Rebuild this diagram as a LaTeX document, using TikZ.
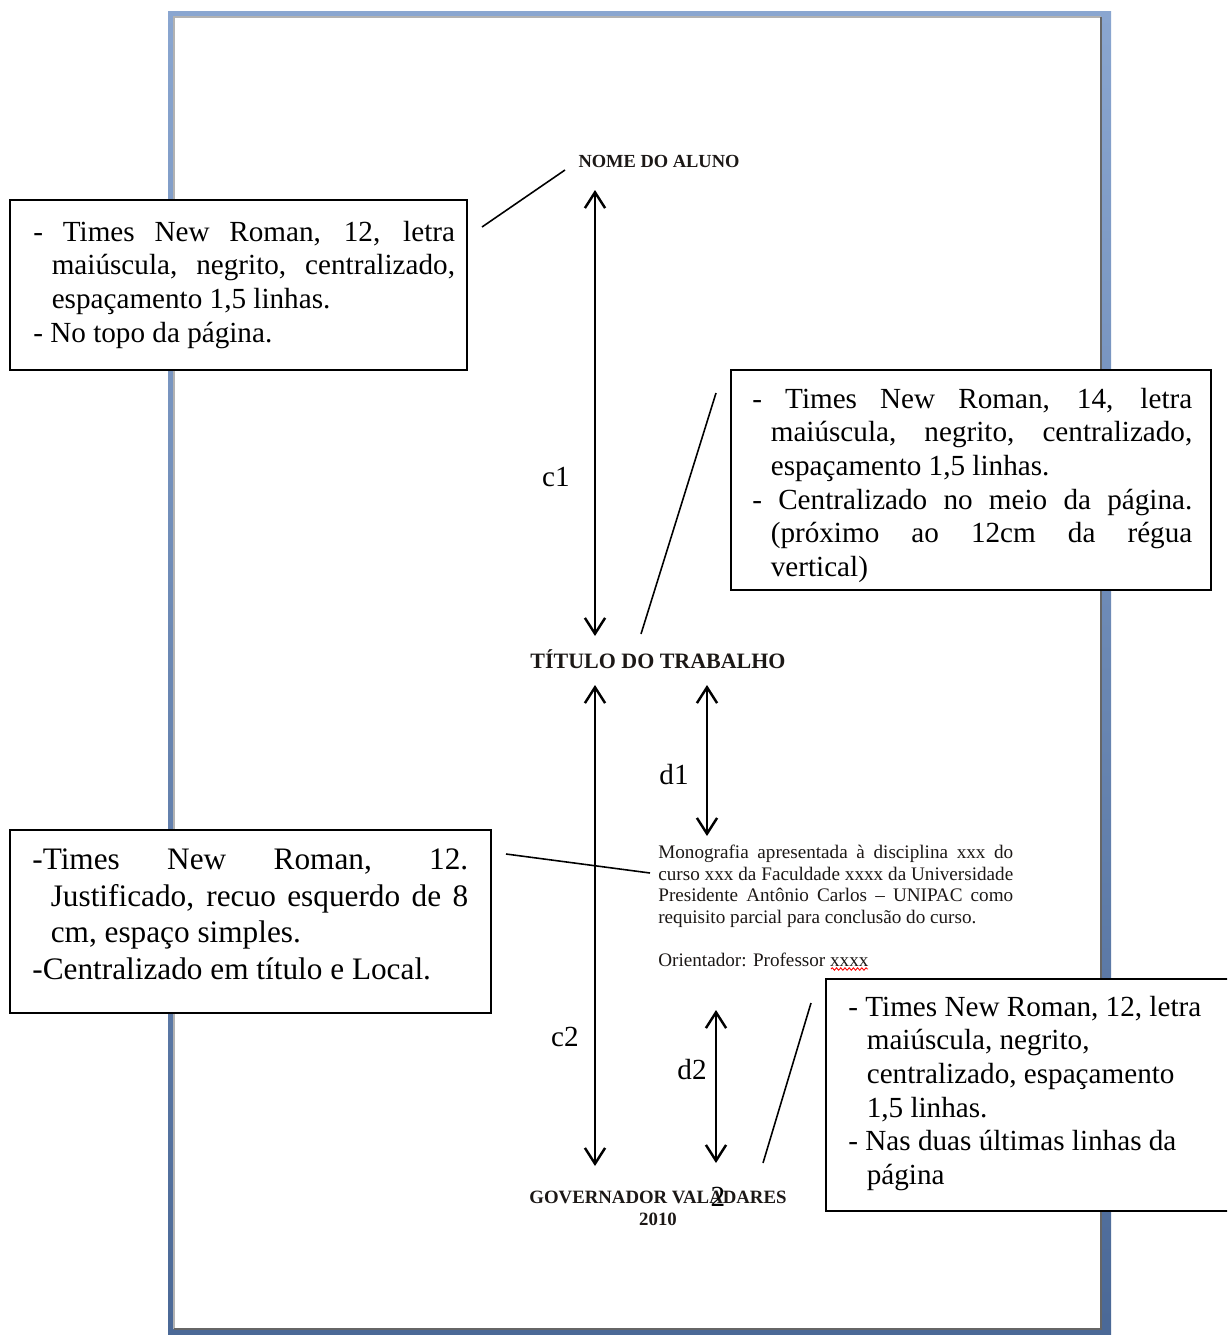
\documentclass[tikz,border=0pt]{standalone}
\usepackage{fontspec}
\setmainfont{Liberation Serif}
\usetikzlibrary{positioning,calc,arrows.meta,decorations.pathmorphing}

\definecolor{frametop}{RGB}{138,166,208}
\definecolor{framebot}{RGB}{74,104,150}
\definecolor{ink}{RGB}{28,24,22}

\newcommand{\notefont}{\fontsize{16.6}{19.1}\selectfont}
\newcommand{\hng}{\leavevmode\hangindent=10.5pt\hangafter=1\relax}

\tikzset{
  note/.style = {anchor=north west, inner sep=0pt, align=justify},
  setup/.style = {execute at begin node={\parindent=0pt\tolerance=10000\hyphenpenalty=10000}},
  frame/.style = {draw=black, fill=white, line width=1.1pt},
  pointer/.style = {line width=0.9pt},
  dim/.style = {<->, line width=1.4pt},
  heading/.style = {inner sep=0pt, text=ink},
  lbl/.style = {inner sep=0pt, font=\notefont},
  >={Straight Barb[length=9pt,width=11.5pt]}
}

\begin{document}
\begin{tikzpicture}[x=0.02cm, y=-0.02cm]

\useasboundingbox (0,0) rectangle (1227,1335);
\clip (0,0) rectangle (1227,1335);

% page
\shade[top color=frametop, bottom color=framebot] (168,12) rectangle (1111,1345);
\fill[white] (174,17) rectangle (1101,1329);
\draw[black!30, line width=0.8pt] (174,1329) -- (174,17) -- (1101,17);
\draw[black!60, line width=1pt] (1101,17) -- (1101,1329) -- (174,1329);

% texts of the page
\node[heading, font=\bfseries\fontsize{10.5}{12}\selectfont] (nome) at (659,161) {NOME DO ALUNO};
\node[heading, font=\bfseries\fontsize{12.5}{14}\selectfont] (titulo) at (658,659) {TÍTULO DO TRABALHO};
\node[note, setup, text=ink, text width=202pt, font=\fontsize{10.9}{12.35}\selectfont] (mono) at (658,842.8)
  {\strut Monografia apresentada à disciplina xxx do\linebreak curso xxx da Faculdade xxxx da Universidade\linebreak Presidente Antônio Carlos -- UNIPAC como\linebreak requisito parcial para conclusão do curso.\par\mbox{}\par Orientador: Professor xxxx\par};
\draw[red, line width=0.5pt, decorate, decoration={snake, amplitude=0.7pt, segment length=2.4pt}] (831,969) -- (868,969);
\node[heading, font=\bfseries\fontsize{10.7}{12}\selectfont] (cidade) at (658,1197) {GOVERNADOR VALADARES};
\node[heading, font=\bfseries\fontsize{10.7}{12}\selectfont] (ano) at (658,1219) {2010};

% notes
\draw[frame] (10,200) rectangle (467,370);
\node[note, setup, text width=240pt, font=\notefont] (fmtnome) at (33,217.5)
  {\strut\hng - Times New Roman, 12, letra\linebreak maiúscula, negrito, centralizado,\linebreak espaçamento 1,5 linhas.\par\hng - No topo da página.\par};

\draw[frame] (731,370) rectangle (1211,590);
\node[note, setup, text width=250.4pt, font=\notefont] (fmttitulo) at (752,384.5)
  {\strut\hng - Times New Roman, 14, letra\linebreak maiúscula, negrito, centralizado,\linebreak espaçamento 1,5 linhas.\par\hng - Centralizado no meio da página.\linebreak (próximo ao 12cm da régua\linebreak vertical)\par};

\draw[frame] (10,830) rectangle (491,1013);
\node[note, setup, text width=248.1pt, font=\fontsize{17.8}{20.9}\selectfont] (fmtmono) at (32,843.3)
  {\strut\hng -Times New Roman, 12.\linebreak Justificado, recuo esquerdo de 8\linebreak cm, espaço simples.\par\hng -Centralizado em título e Local.\par};

\draw[frame] (826,979) rectangle (1260,1211);
\node[note, setup, align=flush left, text width=230pt, font=\notefont] (fmtlocal) at (848,992.5)
  {\strut\hng - Times New Roman, 12, letra\linebreak maiúscula, negrito,\linebreak centralizado, espaçamento\linebreak 1,5 linhas.\par\hng - Nas duas últimas linhas da\linebreak página\par};

% distances
\coordinate (c1a) at (595,190);
\coordinate (c1b) at (595,636);
\coordinate (c2a) at (595,685);
\coordinate (c2b) at (595,1166);
\coordinate (d1a) at (707,685);
\coordinate (d1b) at (707,836);
\coordinate (d2a) at (716,1010);
\coordinate (d2b) at (716,1163);
\draw[dim] (c1a) -- (c1b);
\draw[dim] (c2a) -- (c2b);
\draw[dim] (d1a) -- (d1b);
\draw[dim] (d2a) -- (d2b);
\node[lbl] (c1) at (556,477) {c1};
\node[lbl] (c2) at (565,1037) {c2};
\node[lbl] (d1) at (674,775) {d1};
\node[lbl] (d2) at (692,1070) {d2};
\node[lbl] (pnum) at (718,1197) {2};

% pointers
\coordinate (p1a) at (482,227);
\coordinate (p1b) at (565,170);
\coordinate (p2a) at (716,393);
\coordinate (p2b) at (641,634);
\coordinate (p3a) at (506,854);
\coordinate (p3b) at (650,873);
\coordinate (p4a) at (811,1003);
\coordinate (p4b) at (763,1163);
\draw[pointer] (p1a) -- (p1b);
\draw[pointer] (p2a) -- (p2b);
\draw[pointer] (p3a) -- (p3b);
\draw[pointer] (p4a) -- (p4b);

\end{tikzpicture}
\end{document}
